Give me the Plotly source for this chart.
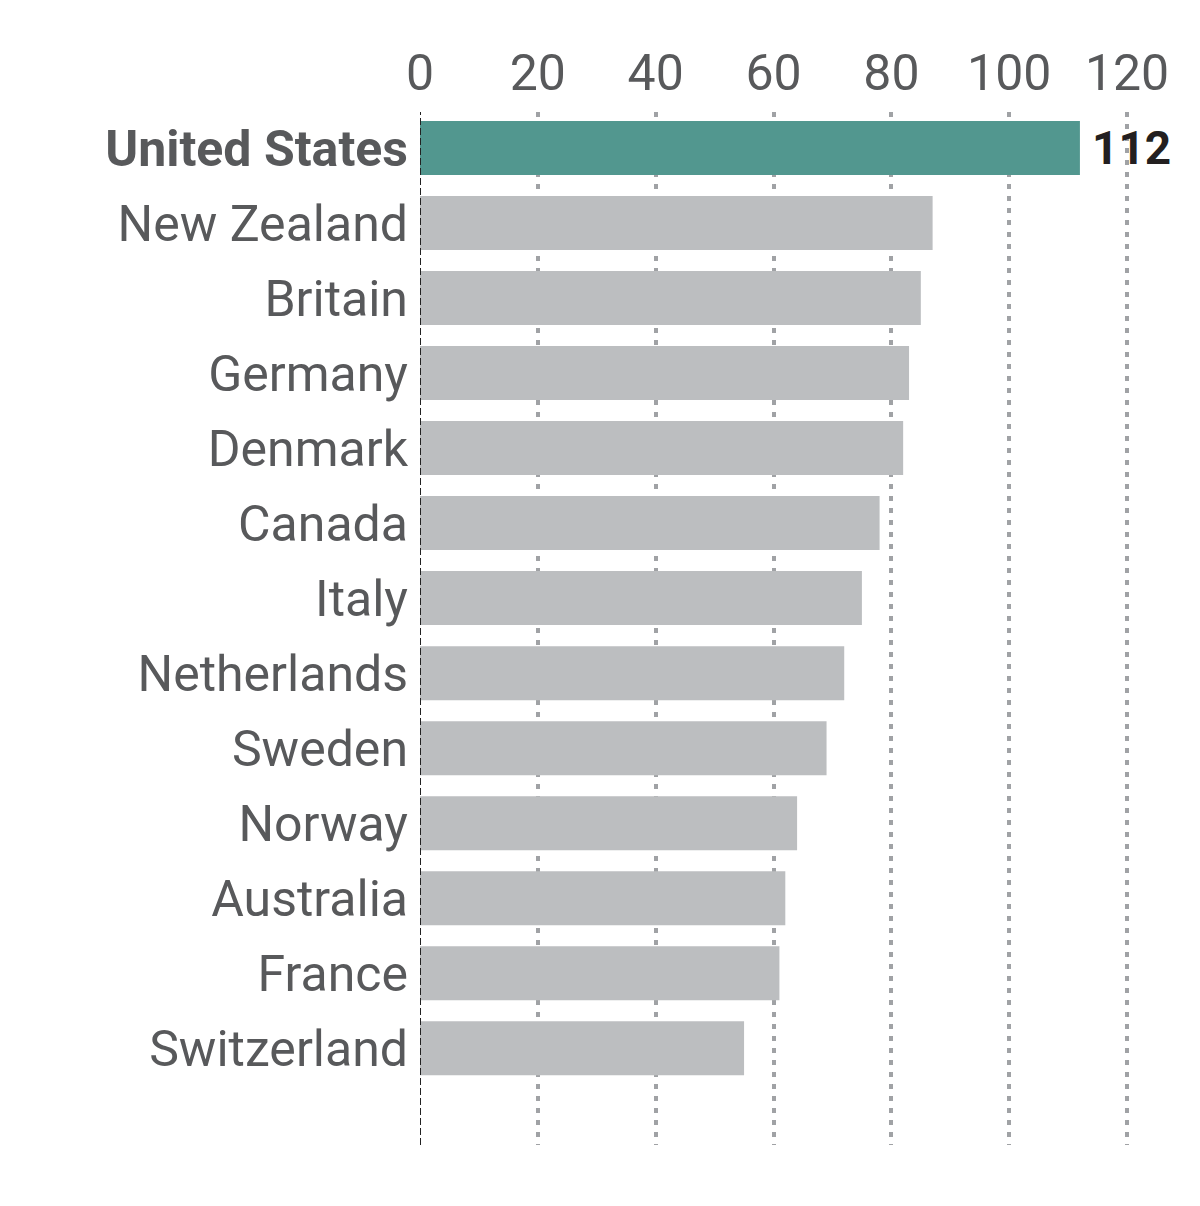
import plotly.graph_objects as go

countries = ["United States", "New Zealand", "Britain", "Germany", "Denmark", "Canada",
             "Italy", "Netherlands", "Sweden", "Norway", "Australia", "France", "Switzerland"]
values = [112, 87, 85, 83, 82, 78, 75, 72, 69, 64, 62, 61, 55]
x_ticks = [0, 20, 40, 60, 80, 100, 120]

highlight = "United States"
colors = ["#52978f" if c == highlight else "#bcbec0" for c in countries]
ticktext = [f"<b>{c}</b>" if c == highlight else c for c in countries]

fig = go.Figure()
fig.add_trace(go.Bar(
    x=values, y=countries, orientation="h",
    marker=dict(color=colors, line=dict(width=0)),
    width=0.72,
    hoverinfo="skip",
))

for c, v in zip(countries, values):
    if c == highlight:
        fig.add_annotation(x=v, y=c, xref="x", yref="y", text=f"<b>{v}</b>",
                           showarrow=False, xanchor="left", yanchor="middle",
                           xshift=10, font=dict(family="Roboto", size=46, color="#231f20"))

fig.add_shape(type="line", xref="x", yref="paper", x0=0, x1=0, y0=0, y1=1,
              line=dict(color="#222222", width=2, dash="7px,3px"), layer="above")

fig.update_layout(
    width=1192, height=1198,
    margin=dict(l=412, r=70, t=104, b=61),
    paper_bgcolor="white", plot_bgcolor="white",
    showlegend=False,
    font=dict(family="Roboto", color="#58595b"),
    xaxis=dict(
        side="top", range=[0, 120.5], tickvals=x_ticks,
        ticktext=[str(t) for t in x_ticks],
        tickfont=dict(size=50, color="#58595b"),
        showgrid=True, gridcolor="#a0a2a5", gridwidth=3.5, griddash="5px,7px",
        zeroline=False, showline=False, ticks="", ticklabelstandoff=11,
        fixedrange=True,
    ),
    yaxis=dict(
        categoryorder="array", categoryarray=countries,
        range=[13.29, -0.48],
        tickvals=countries, ticktext=ticktext,
        tickfont=dict(size=50, color="#58595b"),
        showgrid=False, zeroline=False, showline=False, ticks="",
        ticklabelstandoff=11, fixedrange=True,
    ),
)

fig.write_html("out.html")
